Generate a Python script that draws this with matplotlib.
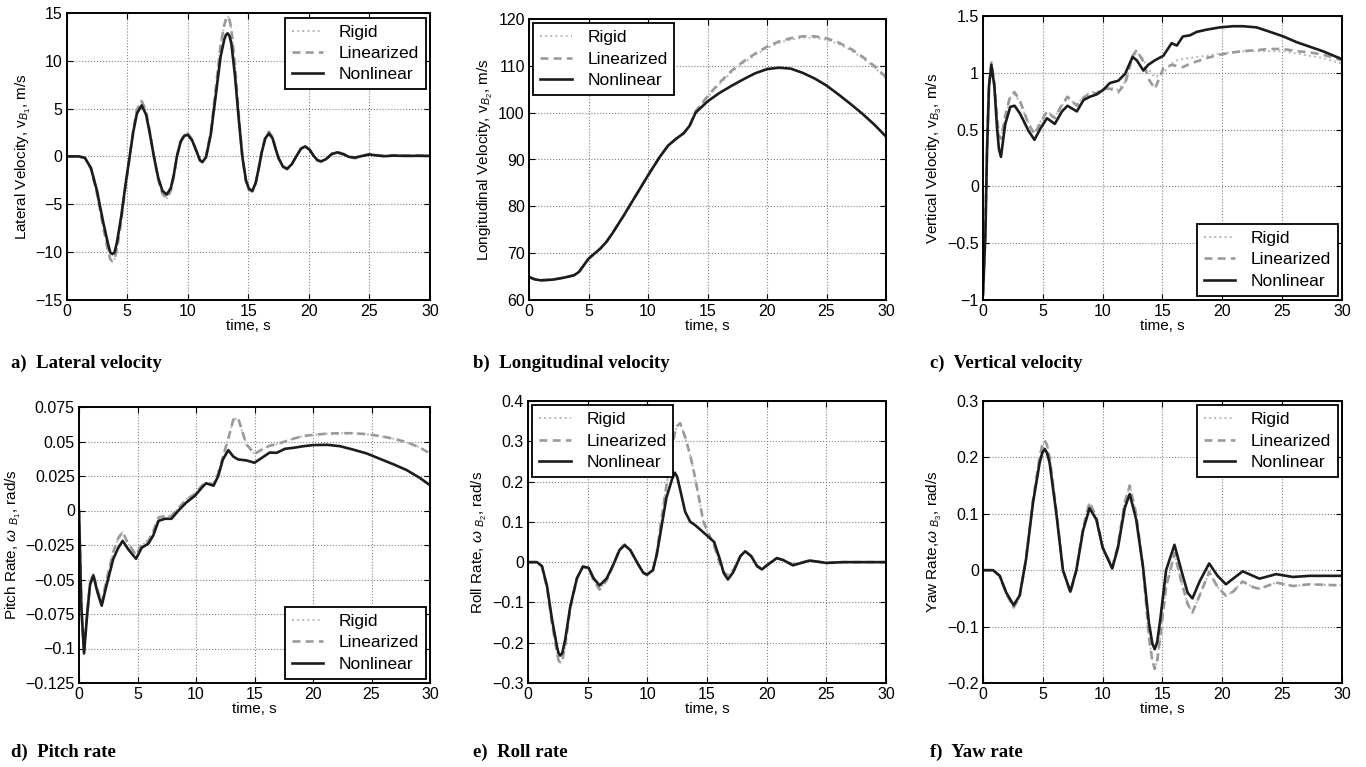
import matplotlib
matplotlib.use('Agg')
import matplotlib.pyplot as plt
from matplotlib.ticker import FuncFormatter

# ---- data (time in s) ----
# a) lateral velocity, m/s
t_a = [0, 1.0, 1.5, 2.0, 2.5, 3.0, 3.4, 3.6, 3.77, 3.95, 4.15, 4.5,
       4.85, 5.2, 5.5, 5.8, 6.19, 6.55, 6.85, 7.2, 7.55, 7.9,
       8.26, 8.6, 8.85, 9.1, 9.4, 9.7, 10.0, 10.35, 10.7, 11.0,
       11.2, 11.5, 11.9, 12.3, 12.7, 13.0, 13.15, 13.3, 13.45, 13.6, 13.9, 14.2,
       14.5, 14.8, 15.05, 15.33, 15.6, 15.85, 16.1, 16.4, 16.7, 17.0,
       17.25, 17.5, 17.85, 18.2, 18.6, 19.0, 19.35, 19.7, 20.05, 20.4,
       20.7, 21.0, 21.4, 21.9, 22.35, 22.9, 23.3, 23.8, 24.4, 25.0,
       25.6, 26.2, 27.0, 28.0, 29.0, 30.0]
non_a = [0, 0, -0.15, -1.2, -3.6, -6.8, -9.1, -10.07, -10.24, -10.07, -9.0, -6.3,
         -3.0, 0.0, 2.6, 4.5, 5.35, 4.4, 2.5, 0.0, -2.2, -3.6,
         -4.0, -3.3, -1.9, 0.0, 1.5, 2.15, 2.26, 1.7, 0.6, -0.4,
         -0.6, -0.1, 2.3, 6.3, 10.4, 12.2, 12.75, 12.9, 12.6, 11.8, 8.4, 4.0,
         0.0, -2.5, -3.4, -3.6, -2.8, -1.3, 0.4, 1.9, 2.4, 1.9,
         0.8, -0.2, -1.05, -1.3, -0.8, 0.1, 0.8, 1.04, 0.7, 0.05,
         -0.4, -0.52, -0.3, 0.25, 0.42, 0.2, -0.05, -0.12, 0.05, 0.2,
         0.1, 0.02, 0.08, 0.05, 0.06, 0.05]
lin_a = [0, 0, -0.15, -1.3, -3.9, -7.3, -9.8, -10.8, -11.0, -10.8, -9.7, -6.8,
         -3.3, 0.0, 2.8, 4.9, 5.8, 4.8, 2.7, 0.0, -2.4, -3.9,
         -4.4, -3.6, -2.1, 0.0, 1.6, 2.3, 2.4, 1.8, 0.6, -0.4,
         -0.6, -0.1, 2.6, 7.0, 11.6, 13.7, 14.4, 14.65, 14.3, 13.3, 9.5, 4.5,
         0.0, -2.6, -3.5, -3.7, -2.9, -1.3, 0.5, 2.0, 2.6, 2.0,
         0.8, -0.2, -1.1, -1.35, -0.8, 0.15, 0.85, 1.1, 0.75, 0.05,
         -0.4, -0.55, -0.3, 0.3, 0.48, 0.25, -0.05, -0.2, 0.05, 0.25,
         0.15, 0.05, 0.12, 0.08, 0.1, 0.08]
rig_a = lin_a  # rigid sits on top of linearized here

# b) longitudinal velocity, m/s
t_b = [0, 0.5, 1, 2, 3, 3.8, 4.2, 4.6, 5, 6,
       6.5, 7, 8, 9, 10, 11, 11.7, 12.4, 13, 13.5,
       14, 15, 16, 17, 18, 19, 20, 21, 22, 23,
       24, 25, 26, 27, 28, 29, 30]
non_b = [64.9, 64.4, 64.2, 64.35, 64.8, 65.3, 66.0, 67.4, 68.8, 71.0,
         72.4, 74.2, 78.2, 82.4, 86.6, 90.6, 93.0, 94.5, 95.6, 97.2,
         100.0, 102.4, 104.2, 105.7, 107.1, 108.4, 109.3, 109.6, 109.4, 108.5,
         107.3, 105.8, 103.9, 101.9, 99.8, 97.5, 94.9]
lin_b = [64.9, 64.4, 64.2, 64.35, 64.8, 65.3, 66.0, 67.4, 68.8, 71.0,
         72.4, 74.2, 78.2, 82.4, 86.6, 90.6, 93.0, 94.5, 95.6, 97.3,
         100.3, 103.5, 106.4, 108.9, 110.9, 112.6, 114.1, 115.2, 115.9, 116.3,
         116.3, 115.9, 115.0, 113.7, 112.0, 110.0, 107.6]
rig_b = [64.9, 64.4, 64.2, 64.35, 64.8, 65.3, 66.0, 67.4, 68.8, 71.0,
         72.4, 74.2, 78.2, 82.4, 86.6, 90.6, 93.0, 94.5, 95.6, 97.3,
         100.3, 103.3, 106.1, 108.6, 110.6, 112.3, 113.8, 114.9, 115.6, 116.0,
         116.0, 115.6, 114.7, 113.4, 111.7, 109.7, 107.3]

# c) vertical velocity, m/s
t_c = [0, 0.2, 0.33, 0.5, 0.7, 0.95, 1.17, 1.33, 1.5, 1.86,
       2.28, 2.64, 3.1, 3.8, 4.3, 4.8, 5.34, 6.0, 6.6, 7.06,
       7.84, 8.4, 8.95, 9.5, 10.06, 10.6, 11.3, 11.87, 12.5, 12.85,
       13.4, 13.8, 14.37, 15.07, 15.76, 16.2, 16.7, 17.3, 17.85, 18.7,
       19.8, 20.9, 21.7, 22.85, 24.0, 25.1, 26.2, 27.3, 28.4, 30]
non_c = [-0.95, -0.42, 0.29, 0.88, 1.07, 0.88, 0.52, 0.33, 0.26, 0.55,
         0.70, 0.71, 0.64, 0.49, 0.41, 0.51, 0.60, 0.55, 0.66, 0.71,
         0.66, 0.76, 0.79, 0.81, 0.85, 0.91, 0.93, 0.99, 1.14, 1.11,
         1.02, 1.07, 1.11, 1.15, 1.26, 1.24, 1.32, 1.33, 1.36, 1.38,
         1.40, 1.41, 1.41, 1.40, 1.36, 1.32, 1.27, 1.23, 1.19, 1.12]
lin_c = [-0.95, -0.4, 0.3, 0.9, 1.09, 0.92, 0.62, 0.45, 0.42, 0.62,
         0.80, 0.83, 0.75, 0.55, 0.46, 0.56, 0.66, 0.60, 0.72, 0.79,
         0.71, 0.78, 0.82, 0.82, 0.86, 0.86, 0.83, 0.90, 1.15, 1.20,
         1.10, 0.95, 0.86, 1.04, 1.07, 1.06, 1.05, 1.08, 1.10, 1.13,
         1.16, 1.18, 1.19, 1.20, 1.21, 1.21, 1.19, 1.18, 1.16, 1.11]
rig_c = [-0.95, -0.4, 0.3, 0.9, 1.08, 0.9, 0.6, 0.44, 0.41, 0.6,
         0.78, 0.81, 0.74, 0.55, 0.47, 0.57, 0.66, 0.61, 0.71, 0.78,
         0.72, 0.79, 0.83, 0.83, 0.86, 0.87, 0.85, 0.92, 1.13, 1.18,
         1.12, 1.03, 0.96, 1.00, 1.08, 1.11, 1.12, 1.13, 1.14, 1.15,
         1.17, 1.18, 1.19, 1.19, 1.19, 1.19, 1.17, 1.15, 1.13, 1.08]

# d) pitch rate, rad/s
t_d = [0, 0.2, 0.43, 0.7, 0.94, 1.22, 1.57, 1.94, 2.36, 2.93,
       3.36, 3.73, 4.2, 4.87, 5.36, 5.93, 6.35, 6.8, 7.35, 7.9,
       8.5, 9.2, 9.9, 10.5, 10.85, 11.5, 11.9, 12.3, 12.76, 13.2,
       13.6, 14.3, 15.0, 15.6, 16.3, 16.9, 17.6, 18.3, 19.2, 20.0,
       21.2, 22.3, 23.4, 24.6, 25.7, 26.9, 28.0, 29.1, 30]
non_d = [0.0, -0.07, -0.1036, -0.075, -0.054, -0.047, -0.059, -0.069, -0.054, -0.035,
         -0.027, -0.022, -0.028, -0.035, -0.027, -0.024, -0.018, -0.0075, -0.006, -0.006,
         0.0, 0.006, 0.0106, 0.0166, 0.0197, 0.018, 0.025, 0.037, 0.0437, 0.039,
         0.037, 0.0363, 0.0346, 0.038, 0.042, 0.0418, 0.0447, 0.0454, 0.0466, 0.0474,
         0.0476, 0.0466, 0.0442, 0.0413, 0.0375, 0.0334, 0.0293, 0.0238, 0.0183]
lin_d = [0.0, -0.07, -0.103, -0.074, -0.053, -0.046, -0.057, -0.067, -0.05, -0.03,
         -0.02, -0.0155, -0.024, -0.032, -0.025, -0.022, -0.015, -0.005, -0.004, -0.004,
         0.002, 0.008, 0.012, 0.018, 0.02, 0.019, 0.027, 0.039, 0.052, 0.066,
         0.067, 0.048, 0.041, 0.044, 0.047, 0.048, 0.050, 0.052, 0.054, 0.0548,
         0.0557, 0.056, 0.056, 0.0553, 0.054, 0.052, 0.0495, 0.0458, 0.0413]
rig_d = lin_d

# e) roll rate, rad/s
t_e = [0, 0.75, 1.17, 1.6, 2.0, 2.43, 2.55, 2.7, 2.88, 3.13, 3.54, 4.1,
       4.6, 5.08, 5.5, 6.0, 6.6, 7.17, 7.67, 8.1, 8.57, 9.13,
       9.63, 9.96, 10.47, 10.8, 11.2, 11.6, 12.06, 12.3, 12.5, 12.75, 13.17,
       13.6, 14.0, 14.7, 15.6, 16.1, 16.4, 16.75, 17.2, 17.8, 18.2,
       18.7, 19.2, 19.6, 20.15, 20.85, 21.4, 22.2, 23.6, 25, 26.4, 30]
non_e = [0, 0, -0.01, -0.06, -0.14, -0.21, -0.225, -0.232, -0.225, -0.19, -0.11, -0.04,
         -0.011, -0.014, -0.04, -0.058, -0.04, -0.005, 0.03, 0.042, 0.03, 0.0,
         -0.025, -0.031, -0.02, 0.02, 0.09, 0.16, 0.205, 0.222, 0.212, 0.18, 0.125,
         0.10, 0.092, 0.074, 0.05, 0.005, -0.027, -0.043, -0.025, 0.015, 0.027,
         0.015, -0.01, -0.018, -0.005, 0.01, 0.005, -0.008, 0.004, -0.002, 0.0, 0.0]
lin_e = [0, 0, -0.01, -0.065, -0.15, -0.225, -0.243, -0.25, -0.243, -0.205, -0.115, -0.04,
         -0.011, -0.016, -0.045, -0.068, -0.045, -0.005, 0.032, 0.044, 0.03, 0.0,
         -0.027, -0.032, -0.02, 0.025, 0.11, 0.19, 0.28, 0.32, 0.338, 0.345, 0.31,
         0.265, 0.21, 0.10, 0.04, -0.005, -0.025, -0.033, -0.02, 0.015, 0.027,
         0.015, -0.01, -0.015, -0.005, 0.01, 0.005, -0.006, 0.004, -0.002, 0.0, 0.0]
rig_e = lin_e

# f) yaw rate, rad/s
t_f = [0, 0.84, 1.4, 1.95, 2.56, 3.06, 3.6, 4.18, 4.73, 4.95, 5.15,
       5.35, 5.57, 6.13, 6.68, 7.3, 7.8, 8.36, 8.9, 9.47, 10.0, 10.8,
       11.28, 11.84, 12.26, 12.8, 13.37, 13.87, 14.15, 14.35, 14.55, 14.8, 15.3, 16.0,
       16.57, 17.1, 17.5, 18.1, 18.9, 19.6, 20.3, 20.9, 21.7, 22.56,
       23.1, 24.5, 25.9, 27.3, 28.7, 30]
non_f = [0, 0, -0.01, -0.04, -0.062, -0.045, 0.02, 0.12, 0.19, 0.208, 0.215,
         0.208, 0.19, 0.10, 0.0, -0.038, 0.0, 0.07, 0.11, 0.09, 0.04, 0.003,
         0.04, 0.11, 0.135, 0.09, 0.006, -0.094, -0.13, -0.14, -0.128, -0.09, 0.0, 0.045,
         0.0, -0.04, -0.05, -0.02, 0.012, -0.01, -0.025, -0.015, -0.002, -0.01,
         -0.015, -0.007, -0.012, -0.01, -0.01, -0.01]
lin_f = [0, 0, -0.01, -0.042, -0.066, -0.048, 0.02, 0.125, 0.2, 0.222, 0.23,
         0.222, 0.2, 0.105, 0.0, -0.04, 0.0, 0.075, 0.12, 0.095, 0.04, 0.005,
         0.045, 0.12, 0.15, 0.1, 0.005, -0.12, -0.16, -0.175, -0.162, -0.12, -0.03, 0.03,
         -0.02, -0.06, -0.075, -0.045, -0.003, -0.03, -0.045, -0.038, -0.02, -0.03,
         -0.033, -0.022, -0.028, -0.025, -0.026, -0.027]
rig_f = lin_f

x_ticks = [0, 5, 10, 15, 20, 25, 30]
yt_a = [-15, -10, -5, 0, 5, 10, 15]
yt_b = [60, 70, 80, 90, 100, 110, 120]
yt_c = [-1, -0.5, 0, 0.5, 1, 1.5]
yt_d = [-0.125, -0.1, -0.075, -0.05, -0.025, 0, 0.025, 0.05, 0.075]
yt_e = [-0.3, -0.2, -0.1, 0, 0.1, 0.2, 0.3, 0.4]
yt_f = [-0.2, -0.1, 0, 0.1, 0.2, 0.3]

ylabels = [r'Lateral Velocity, v$_{B_1}$, m/s',
           r'Longitudinal Velocity, v$_{B_2}$, m/s',
           r'Vertical Velocity, v$_{B_3}$, m/s',
           r'Pitch Rate, $\omega$ $_{B_1}$, rad/s',
           r'Roll Rate, $\omega$ $_{B_2}$, rad/s',
           r'Yaw Rate,$\omega$ $_{B_3}$, rad/s']
captions = ['a)  Lateral velocity', 'b)  Longitudinal velocity', 'c)  Vertical velocity',
            'd)  Pitch rate', 'e)  Roll rate', 'f)  Yaw rate']
series_names = ['Rigid', 'Linearized', 'Nonlinear']

# ---- style ----
plt.rcParams['font.family'] = ['Liberation Sans', 'DejaVu Sans']
plt.rcParams['mathtext.fontset'] = 'custom'
plt.rcParams['mathtext.rm'] = 'Liberation Sans'
plt.rcParams['mathtext.it'] = 'Liberation Sans:italic'
plt.rcParams['mathtext.bf'] = 'Liberation Sans:bold'


def fmt(v, pos):
    s = '%g' % v
    return s.replace('-', '\u2212')


def px(l, t, r, b):
    return [l / 1366, 1 - b / 767, (r - l) / 1366, (b - t) / 767]


fig = plt.figure(figsize=(13.66, 7.67), dpi=100)

panels = [
    (px(66.7, 13.3, 430, 299.5), t_a, rig_a, lin_a, non_a, yt_a, 'upper right'),
    (px(529, 19, 886, 300), t_b, rig_b, lin_b, non_b, yt_b, 'upper left'),
    (px(983, 16, 1342, 300), t_c, rig_c, lin_c, non_c, yt_c, 'lower right'),
    (px(79, 407, 430, 683), t_d, rig_d, lin_d, non_d, yt_d, 'lower right'),
    (px(528, 401, 886, 683), t_e, rig_e, lin_e, non_e, yt_e, 'upper left'),
    (px(983, 401, 1342, 683), t_f, rig_f, lin_f, non_f, yt_f, 'upper right'),
]

for i, (rect, t, rig, lin, non, yt, loc) in enumerate(panels):
    ax = fig.add_axes(rect)
    ax.plot(t, rig, color='#b8b8b8', ls=':', lw=1.4, label=series_names[0])
    ax.plot(t, lin, color='#9a9a9a', ls=(0, (3, 2)), lw=1.9, label=series_names[1])
    ax.plot(t, non, color='#1c1c1c', ls='-', lw=1.9, label=series_names[2])
    ax.set_xlim(0, 30)
    ax.set_ylim(yt[0], yt[-1])
    ax.set_xticks(x_ticks)
    ax.set_yticks(yt)
    ax.yaxis.set_major_formatter(FuncFormatter(fmt))
    ax.grid(True, ls=':', color='#808080', lw=0.8)
    ax.tick_params(direction='in', top=True, right=True, length=4, width=0.8,
                   labelsize=11.5, pad=3)
    for sp in ax.spines.values():
        sp.set_linewidth(1.4)
    ax.set_xlabel('time, s', fontsize=11, labelpad=0)
    ax.set_ylabel(ylabels[i], fontsize=11, labelpad=2)
    leg = ax.legend(loc=loc, fontsize=12.5, fancybox=False, framealpha=1,
                    edgecolor='black', borderaxespad=0.25, handlelength=1.8,
                    labelspacing=0.35, handletextpad=0.9, borderpad=0.4)
    leg.get_frame().set_linewidth(1.3)

cap_x = [11, 473, 930, 11, 473, 930]
cap_y = [363, 363, 363, 752, 752, 752]
for i in range(6):
    fig.text(cap_x[i] / 1366, 1 - cap_y[i] / 767, captions[i], fontsize=13.5,
             fontweight='bold', family=['Liberation Serif', 'DejaVu Serif'],
             va='center', ha='left')

fig.savefig('out.png', dpi=100)
